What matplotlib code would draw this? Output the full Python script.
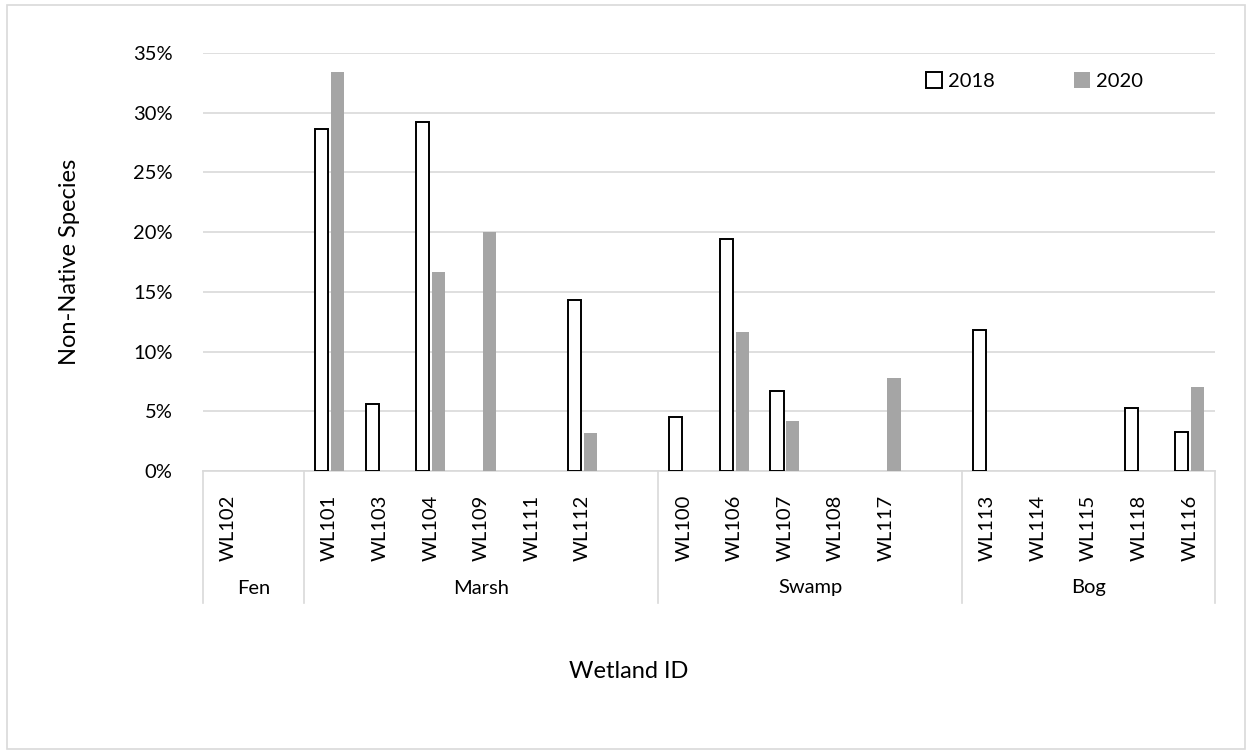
import matplotlib
matplotlib.use("Agg")
import matplotlib.pyplot as plt
import matplotlib.ticker as mticker
from matplotlib.patches import Rectangle
import numpy as np

# data (percent of non-native species)
site_types = ["Fen", "Marsh", "Swamp", "Bog"]
site_ids = [
    ["WL102"],
    ["WL101", "WL103", "WL104", "WL109", "WL111", "WL112"],
    ["WL100", "WL106", "WL107", "WL108", "WL117"],
    ["WL113", "WL114", "WL115", "WL118", "WL116"],
]
pct_2018 = [None,
            28.6, 5.6, 29.2, None, None, 14.3,
            4.55, 19.4, 6.7, None, None,
            11.8, None, None, 5.3, 3.25]
pct_2020 = [None,
            33.4, None, 16.7, 20.05, None, 3.2,
            None, 11.6, 4.2, None, 7.8,
            None, None, None, None, 7.0]
year_labels = ["2018", "2020"]

plt.rcParams['font.family'] = ['Lato', 'DejaVu Sans']
tick_fs = 14.5
title_fs = 17

fig = plt.figure(figsize=(12.52, 7.55), dpi=100)
ax = fig.add_axes([203/1252, 1 - 471/755, (1215 - 203)/1252, (471 - 53)/755])

# slot positions: one blank slot after every group except the last
xpos, labels, group_edges, group_mid = [], [], [-0.5], []
slot = 0
for gi, ids in enumerate(site_ids):
    start = slot
    for s in ids:
        xpos.append(slot)
        labels.append(s)
        slot += 1
    if gi < len(site_ids) - 1:
        slot += 1
    group_edges.append(slot - 0.5)
    group_mid.append((start - 0.5 + slot - 0.5) / 2)
xpos = np.array(xpos, dtype=float)
n_slots = slot

bw = 0.26
off = 0.155
x18 = [x - off for x, v in zip(xpos, pct_2018) if v is not None]
v18 = [v for v in pct_2018 if v is not None]
x20 = [x + off for x, v in zip(xpos, pct_2020) if v is not None]
v20 = [v for v in pct_2020 if v is not None]

b18 = ax.bar(x18, v18, width=bw, color="white", edgecolor="black",
             linewidth=1.4, label=year_labels[0], zorder=3)
b20 = ax.bar(x20, v20, width=bw, color="#A5A5A5", edgecolor="none",
             label=year_labels[1], zorder=3)

ax.set_xlim(-0.5, n_slots - 0.5)
ax.set_ylim(0, 35)
ax.set_yticks(np.arange(0, 36, 5))
ax.yaxis.set_major_formatter(mticker.PercentFormatter(decimals=0))
ax.grid(axis="y", color="#D9D9D9", linewidth=1.2, zorder=0)
for sp in ["top", "right", "left"]:
    ax.spines[sp].set_visible(False)
ax.spines["bottom"].set_color("#D9D9D9")
ax.spines["bottom"].set_linewidth(1.2)
ax.tick_params(axis="y", length=0, pad=22, labelsize=tick_fs)
ax.tick_params(axis="x", length=0, pad=17, labelsize=tick_fs)
ax.set_xticks(xpos)
ax.set_xticklabels(labels, rotation=90, va="top", ha="center")

# multi-level category axis
trans = ax.get_xaxis_transform()
low = -(603 - 471) / (471 - 53)
for e in group_edges:
    ax.plot([e, e], [0, low], color="#D9D9D9", linewidth=1.2,
            transform=trans, clip_on=False)
for m, name in zip(group_mid, site_types):
    ax.text(m, -(588 - 471) / (471 - 53), name, transform=trans,
            ha="center", va="center", fontsize=tick_fs)

fig.text(70/1252, 1 - 262/755, "Non-Native Species", rotation=90,
         ha="center", va="center", fontsize=title_fs)
fig.text(629/1252, 1 - 672/755, "Wetland ID", ha="center", va="center",
         fontsize=title_fs)

ax.legend(handles=[b18, b20], loc="center left",
          bbox_to_anchor=((926 - 203)/1012, (471 - 81)/418),
          ncol=2, frameon=False, fontsize=tick_fs, handlelength=0.8,
          handleheight=0.8, handletextpad=0.3, columnspacing=3.9,
          borderpad=0, borderaxespad=0)

# chart border
fig.patches.append(Rectangle((7/1252, 1 - 749/755), (1245 - 7)/1252,
                             (749 - 5)/755, transform=fig.transFigure,
                             fill=False, edgecolor="#D9D9D9", linewidth=1.2))

fig.savefig("out.png", dpi=100)
